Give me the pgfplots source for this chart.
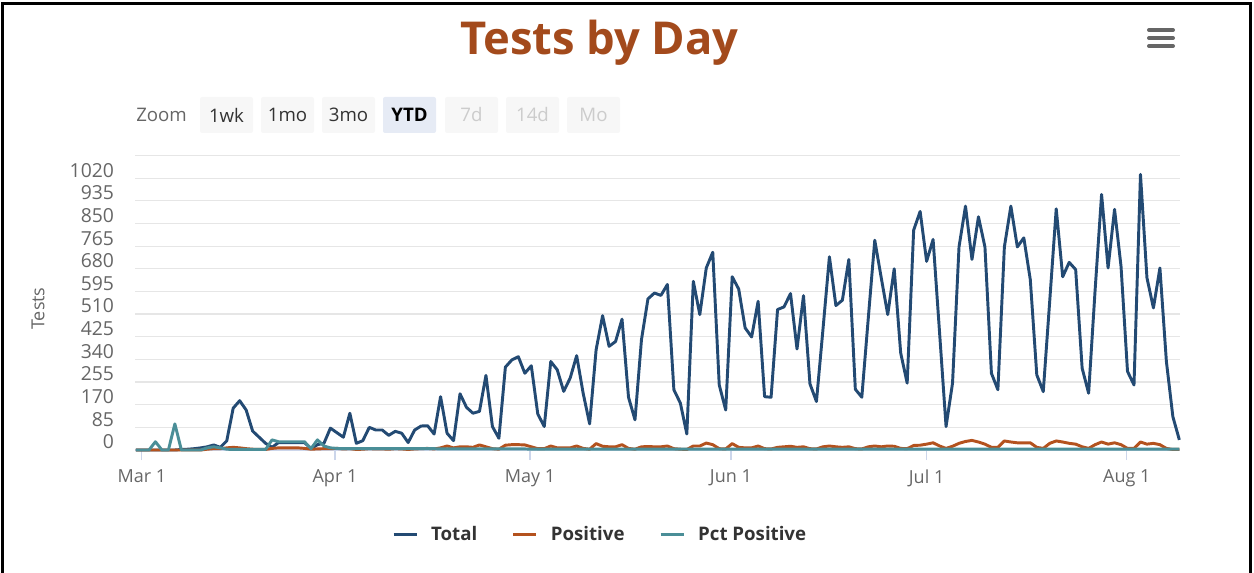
\documentclass[border=0pt]{standalone}
\usepackage{pgfplots}
\pgfplotsset{compat=1.18}
\usepackage{pgfplotstable}
\usepackage{fontspec}
\setmainfont{Open Sans}

\definecolor{totalc}{HTML}{234A73}
\definecolor{posc}{HTML}{B4521E}
\definecolor{pctc}{HTML}{4A8E97}
\definecolor{titlec}{HTML}{A34A1C}
\definecolor{labelc}{HTML}{666666}
\definecolor{gridc}{HTML}{E6E6E6}
\definecolor{axisc}{HTML}{CCD6EB}
\definecolor{legc}{HTML}{333333}
\definecolor{btnc}{HTML}{F7F7F7}
\definecolor{selc}{HTML}{E6EBF5}
\definecolor{offc}{HTML}{CCCCCC}

\newcommand\tickfont{\fontsize{13.5}{16}\selectfont}
\newcommand\ytickfont{\fontsize{14.5}{17}\selectfont}
\newcommand\btnfont{\fontsize{14}{17}\selectfont}

% day 0 = Mar 1; total tests, positive tests, pct positive
\pgfplotstableread{
day total pos pct
0 0 0 0
1 0 0 0
2 0 0 0
3 0 0 31
4 0 0 0
5 0 0 0
6 0 0 98
7 2 0 0
8 3 0 0
9 5 0 0
10 8 0 0
11 12 3 8
12 19 5 12
13 10 5 8
14 34 8 3
15 157 10 2
16 185 8 2
17 150 5 2
18 71 3 2
19 48 2 2
20 25 2 2
21 10 6 38
22 28 8 31
23 28 8 31
24 28 8 31
25 28 8 31
26 28 6 31
27 5 3 5
28 20 4 38
29 25 5 15
30 82 5 8
31 65 6 6
32 48 4 5
33 138 5 5
34 25 2 5
35 35 3 5
36 85 5 5
37 75 4 5
38 75 4 5
39 55 3 5
40 70 5 5
41 63 4 5
42 28 2 5
43 75 4 5
44 90 5 5
45 91 6 5
46 60 4 5
47 200 8 4
48 63 15 4
49 35 8 4
50 211 12 4
51 160 12 4
52 138 10 4
53 145 19 4
54 280 12 4
55 88 5 4
56 44 3 4
57 311 18 4
58 338 20 4
59 350 20 4
60 288 19 4
61 316 12 3
62 135 5 3
63 88 5 3
64 332 15 3
65 301 8 3
66 220 8 3
67 270 8 3
68 354 15 3
69 213 6 3
70 98 3 3
71 376 24 3
72 504 14 3
73 389 12 3
74 407 12 3
75 491 20 3
76 198 6 3
77 113 3 3
78 414 12 3
79 567 13 3
80 589 12 3
81 580 12 3
82 621 15 3
83 226 5 3
84 176 3 3
85 60 2 3
86 633 15 3
87 508 15 3
88 683 26 3
89 742 20 3
90 244 5 3
91 150 4 3
92 650 24 3
93 604 10 3
94 458 8 3
95 424 8 3
96 558 15 3
97 200 5 3
98 198 4 3
99 527 10 3
100 537 12 3
101 587 14 3
102 379 10 3
103 579 12 3
104 248 5 3
105 182 4 3
106 451 12 3
107 725 15 3
108 542 12 3
109 562 10 3
110 715 12 3
111 228 5 3
112 198 4 3
113 495 12 3
114 787 15 3
115 646 12 3
116 508 15 3
117 680 14 3
118 364 6 3
119 251 5 3
120 825 17 3
121 895 18 3
122 708 22 3
123 790 27 3
124 440 15 3
125 88 6 3
126 251 14 3
127 762 25 3
128 915 32 3
129 715 36 3
130 875 30 3
131 762 22 3
132 288 10 3
133 226 10 3
134 762 34 3
135 915 30 3
136 762 27 3
137 796 27 3
138 639 27 3
139 282 10 3
140 219 6 3
141 560 25 3
142 905 34 3
143 650 30 3
144 704 25 3
145 677 22 3
146 307 12 3
147 213 6 3
148 600 20 3
149 959 30 3
150 683 22 3
151 903 27 3
152 689 20 3
153 295 6 3
154 244 6 3
155 1034 30 3
156 646 22 3
157 533 25 3
158 683 20 3
159 332 6 3
160 125 2 3
161 38 2 3
}\tests

\begin{document}
\begin{tikzpicture}
\useasboundingbox (0,0) rectangle (940.5pt,-429.75pt);
\begin{scope}[x=0.75pt,y=-0.75pt]
  % frame
  \draw[black, line width=2.25pt] (2.5,575) -- (2.5,3.5) -- (1250.5,3.5) -- (1250.5,575);
  % title and menu
  \node[font=\bfseries\fontsize{34}{41}\selectfont, text=titlec] at (599.5,43) {Tests by Day};
  \foreach \yy in {30,38,46}
    \draw[labelc, line width=3pt, line cap=round] (1149,\yy) -- (1173,\yy);
  % range selector
  \node[anchor=west, font=\btnfont, text=labelc, inner sep=0pt] at (136,115) {Zoom};
  \foreach \xx/\tt in {200/1wk, 261/1mo, 322/3mo} {
    \fill[btnc, rounded corners=1.5pt] (\xx,97) rectangle ++(53,36);
    \node[font=\btnfont, text=legc] at (\xx+26.5,115) {\tt};
  }
  \fill[selc, rounded corners=1.5pt] (383,97) rectangle ++(53,36);
  \node[font=\btnfont\bfseries, text=black] at (409.5,115) {YTD};
  \foreach \xx/\tt in {445/7d, 506/14d, 567/Mo} {
    \fill[btnc, rounded corners=1.5pt] (\xx,97) rectangle ++(53,36);
    \node[font=\btnfont, text=offc] at (\xx+26.5,115) {\tt};
  }
\end{scope}
\begin{axis}[
  at={(101.25pt,-337.5pt)}, anchor=south west,
  scale only axis, width=783.75pt, height=220.875pt,
  xmin=-0.154, xmax=161.1, ymin=0, ymax=1105,
  axis x line*=bottom, axis y line*=left,
  x axis line style={color=axisc, line width=0.9pt},
  y axis line style={draw=none},
  xtick={0.9,30.7,60.8,91.8,122,152.9},
  xticklabels={Mar 1,Apr 1,May 1,Jun 1,Jul 1,Aug 1},
  ytick={0,85,...,1105},
  yticklabels={0,85,170,255,340,425,510,595,680,765,850,935,1020,{}},
  tick align=outside,
  major tick length=7.5pt,
  xtick style={color=axisc, line width=0.9pt},
  ytick style={draw=none},
  ymajorgrids,
  major grid style={color=gridc, line width=0.9pt},
  tick label style={text=labelc},
  xticklabel style={font=\tickfont, yshift=-4pt},
  yticklabel style={font=\ytickfont, anchor=east, xshift=-4.75pt, yshift=6pt},
  ylabel={Tests},
  every axis y label/.style={at={(axis description cs:-0.0928,0.48)}, rotate=90, anchor=center, font=\tickfont, text=labelc},
  legend columns=3,
  legend style={at={(axis description cs:0.2459,-0.288)}, anchor=west, draw=none, fill=none,
    inner sep=0pt, font=\bfseries\fontsize{14}{17}\selectfont, text=legc,
    nodes={inner sep=0pt},
    /tikz/every odd column/.append style={column sep=9.75pt},
    /tikz/every even column/.append style={column sep=26pt}},
  legend image code/.code={\draw[#1] (0pt,0pt) -- (17.25pt,0pt);},
  clip=false,
]
\addplot[totalc, line width=2.2pt, line join=round] table[x=day, y=total] {\tests};
\addplot[posc, line width=2.2pt, line join=round] table[x=day, y=pos] {\tests};
\addplot[pctc, line width=2.2pt, line join=round] table[x=day, y=pct] {\tests};
\legend{Total, Positive, Pct Positive}
\end{axis}
\end{tikzpicture}
\end{document}
